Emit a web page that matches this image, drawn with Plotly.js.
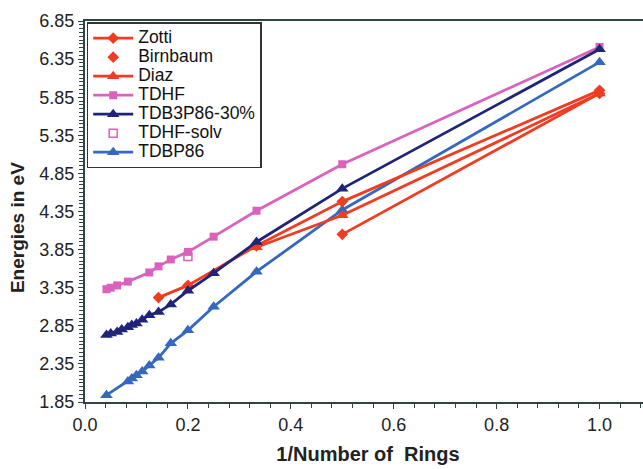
<!DOCTYPE html>
<html>
<head>
<meta charset="utf-8">
<script src="https://cdn.plot.ly/plotly-3.0.1.min.js"></script>
<style>
html,body{margin:0;padding:0;width:643px;height:469px;overflow:hidden;background:#fff;}
#chart{width:660px;height:469px;}
</style>
</head>
<body>
<div id="chart"></div>
<script>
// 1/Number of rings
const zottiX = [0.1429, 0.2, 0.3333, 0.5, 1.0];
const zottiY = [3.22, 3.38, 3.90, 4.48, 5.94];

const birnbaumX = [0.5, 1.0];
const birnbaumY = [4.05, 5.90];

const diazX = [0.3333, 0.5, 1.0];
const diazY = [3.88, 4.30, 5.90];

const tdhfX = [0.0417, 0.05, 0.0625, 0.0833, 0.125, 0.1429, 0.1667, 0.2, 0.25, 0.3333, 0.5, 1.0];
const tdhfY = [3.33, 3.35, 3.38, 3.43, 3.55, 3.63, 3.72, 3.82, 4.02, 4.36, 4.97, 6.51];

const tdb3X = [0.0417, 0.05, 0.0625, 0.0714, 0.0833, 0.0909, 0.1, 0.1111, 0.125, 0.1429, 0.1667, 0.2, 0.25, 0.3333, 0.5, 1.0];
const tdb3Y = [2.73, 2.75, 2.77, 2.80, 2.83, 2.86, 2.88, 2.93, 2.99, 3.03, 3.13, 3.31, 3.54, 3.95, 4.65, 6.48];

const tdhfSolvX = [0.2];
const tdhfSolvY = [3.76];

const tdbpX = [0.0417, 0.0833, 0.0909, 0.1, 0.1111, 0.125, 0.1429, 0.1667, 0.2, 0.25, 0.3333, 0.5, 1.0];
const tdbpY = [1.94, 2.12, 2.16, 2.20, 2.25, 2.33, 2.43, 2.62, 2.79, 3.10, 3.56, 4.37, 6.31];

const seriesNames = ["Zotti", "Birnbaum", "Diaz", "TDHF", "TDB3P86-30%", "TDHF-solv", "TDBP86"];
const xTitle = "1/Number of  Rings";
const yTitle = "Energies in eV";

const RED = "rgb(240,60,34)";
const PINK = "rgb(218,98,190)";
const NAVY = "rgb(30,36,120)";
const BLUE = "rgb(52,104,192)";

function lg(s) { return '<span style="font-size:17.5px">' + s + '</span>'; }

const traces = [
  {x: tdhfX, y: tdhfY, name: lg(seriesNames[3]), mode: "lines+markers", legendrank: 4,
   line: {color: PINK, width: 2.8}, marker: {symbol: "square", size: 8, color: PINK}},
  {x: tdbpX, y: tdbpY, name: lg(seriesNames[6]), mode: "lines+markers", legendrank: 7,
   line: {color: BLUE, width: 2.8}, marker: {symbol: "triangle-up", size: 11, color: BLUE}},
  {x: birnbaumX, y: birnbaumY, name: seriesNames[1] + " line", mode: "lines", showlegend: false,
   line: {color: RED, width: 2.8}, hoverinfo: "skip"},
  {x: diazX, y: diazY, name: lg(seriesNames[2]), mode: "lines+markers", legendrank: 3,
   line: {color: RED, width: 2.8}, marker: {symbol: "triangle-up", size: 11, color: RED}},
  {x: zottiX, y: zottiY, name: lg(seriesNames[0]), mode: "lines+markers", legendrank: 1,
   line: {color: RED, width: 2.8}, marker: {symbol: "diamond", size: 9, color: RED}},
  {x: birnbaumX, y: birnbaumY, name: lg(seriesNames[1]), mode: "markers", legendrank: 2,
   marker: {symbol: "diamond", size: 9, color: RED}},
  {x: tdb3X, y: tdb3Y, name: lg(seriesNames[4]), mode: "lines+markers", legendrank: 5,
   line: {color: NAVY, width: 2.8}, marker: {symbol: "triangle-up", size: 11, color: NAVY}},
  {x: tdhfSolvX, y: tdhfSolvY, name: lg(seriesNames[5]), mode: "markers", legendrank: 6,
   marker: {symbol: "square-open", size: 8, color: PINK, line: {width: 1.5}}}
];

const AX = "#2e4444";
const FONT = "Liberation Sans, Arial, sans-serif";

const layout = {
  width: 660, height: 469,
  margin: {l: 85, r: 9, t: 21, b: 67},
  paper_bgcolor: "#fff", plot_bgcolor: "#fff",
  font: {family: FONT, size: 16, color: "#222"},
  showlegend: true,
  legend: {
    x: 0.003, y: 0.997, xanchor: "left", yanchor: "top",
    bgcolor: "#fff", bordercolor: "#333", borderwidth: 1.5,
    font: {family: FONT, size: 12.2, color: "#111"},
    tracegroupgap: 0, itemwidth: 40
  },
  annotations: [{
    text: "<b>" + yTitle + "</b>", textangle: -90,
    xref: "paper", yref: "paper", x: -0.118, y: 0.457,
    xanchor: "center", yanchor: "middle", showarrow: false,
    font: {family: FONT, size: 19, color: "#222"}
  }],
  xaxis: {
    range: [0, 1.1], tick0: 0, dtick: 0.2, tickformat: ".1f",
    showgrid: false, zeroline: false,
    showline: true, linecolor: AX, linewidth: 2, mirror: true,
    ticks: "outside", ticklen: 5, tickwidth: 1, tickcolor: AX,
    minor: {dtick: 0.04, ticks: "outside", ticklen: 4, tickcolor: AX, showgrid: false},
    tickfont: {family: FONT, size: 18, color: "#222"},
    title: {text: "<b>" + xTitle + "</b>", font: {family: FONT, size: 20, color: "#222"}, standoff: 13},
    automargin: false
  },
  yaxis: {
    range: [1.85, 6.85], tick0: 1.85, dtick: 0.5, tickformat: ".2f",
    showgrid: false, zeroline: false,
    showline: true, linecolor: AX, linewidth: 2, mirror: true,
    ticks: "outside", ticklen: 5, tickwidth: 1, tickcolor: AX,
    minor: {dtick: 0.05, ticks: "outside", ticklen: 4, tickcolor: AX, showgrid: false},
    tickfont: {family: FONT, size: 18, color: "#222"},
    automargin: false
  }
};

Plotly.newPlot("chart", traces, layout, {displayModeBar: false, staticPlot: true});
</script>
</body>
</html>
